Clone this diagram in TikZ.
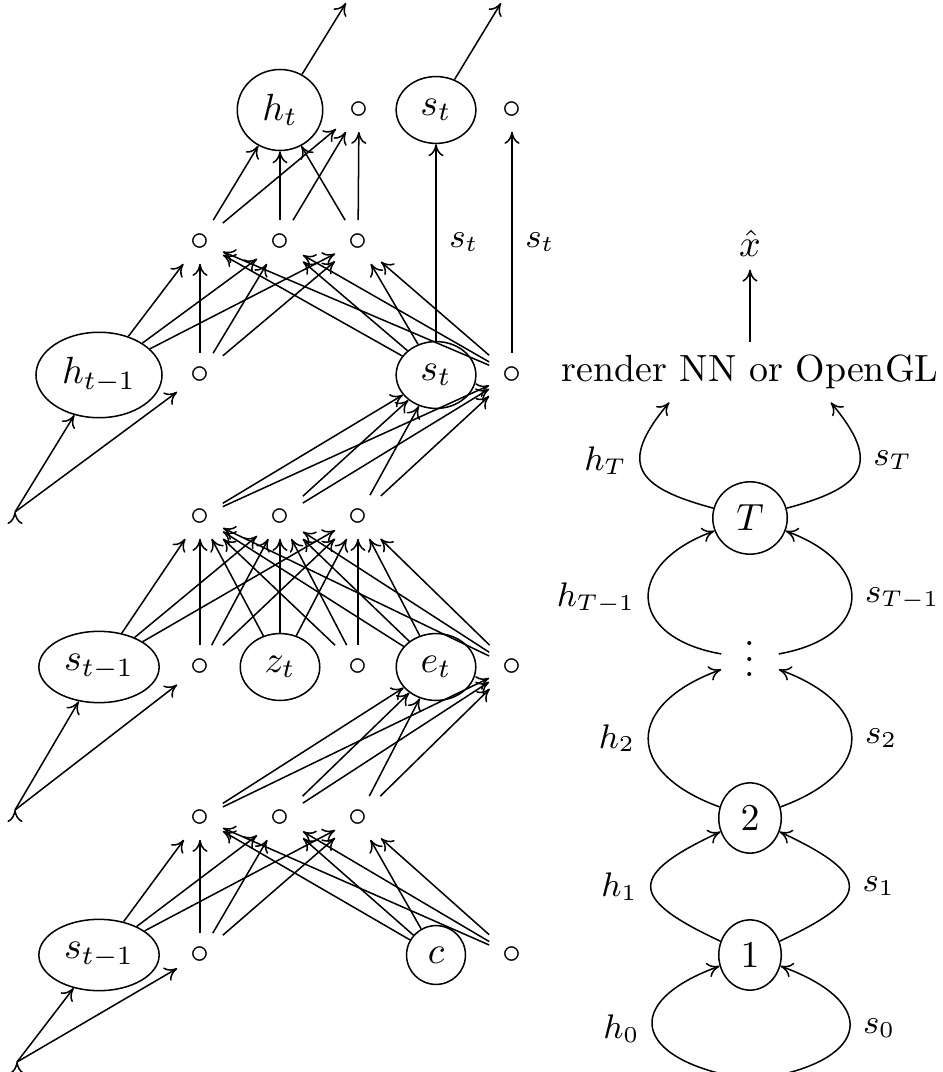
\documentclass[tikz,border=0pt]{standalone}
\usepackage{amsmath, amssymb}
\usepackage{tikz}
\usetikzlibrary{shapes.geometric, arrows.meta}

\begin{document}
\begin{tikzpicture}[x=0.2639pt, y=-0.2639pt,
    var/.style={draw, ellipse},
    prev/.style={var, inner xsep=2pt},
    unit/.style={inner sep=3.33pt},
    link/.style={-{To[length=3.2pt, width=4pt]}},
    lbl/.style={font=\small}
]
    \useasboundingbox (0,0) rectangle (942,1072);

    % Output layer
    \node[var] (ht) at (280,110) {$h_t$};
    \node[unit] (htx) at (359,110) {$\circ$};
    \node[var] (st) at (436,110) {$s_t$};
    \node[unit] (stx) at (512,110) {$\circ$};
    \coordinate (htout) at (346,3);
    \coordinate (stout) at (501,3);

    % Hidden units
    \node[unit] (b1) at (200,242) {$\circ$};
    \node[unit] (b2) at (280,242) {$\circ$};
    \node[unit] (b3) at (358,242) {$\circ$};

    % State layer
    \node[prev] (hm) at (99,375) {$h_{t-1}$};
    \node[unit] (hmx) at (200,375) {$\circ$};
    \node[var] (sc) at (436,375) {$s_t$};
    \node[unit] (scx) at (512,375) {$\circ$};
    \coordinate (in1) at (15,512);

    \node[unit] (d1) at (200,517) {$\circ$};
    \node[unit] (d2) at (280,517) {$\circ$};
    \node[unit] (d3) at (358,517) {$\circ$};

    % Inference layer
    \node[prev] (sm) at (99,667) {$s_{t-1}$};
    \node[unit] (smx) at (200,667) {$\circ$};
    \node[var] (zt) at (280,667) {$z_t$};
    \node[unit] (ztx) at (358,667) {$\circ$};
    \node[var] (et) at (436,667) {$e_t$};
    \node[unit] (etx) at (512,667) {$\circ$};
    \coordinate (in2) at (15,810);

    \node[unit] (f1) at (200,818) {$\circ$};
    \node[unit] (f2) at (280,818) {$\circ$};
    \node[unit] (f3) at (358,818) {$\circ$};

    % Encoder layer
    \node[prev] (sb) at (99,955) {$s_{t-1}$};
    \node[unit] (sbx) at (200,955) {$\circ$};
    \node[var] (c) at (436,955) {$c$};
    \node[unit] (cx) at (512,955) {$\circ$};
    \coordinate (in3) at (17,1062);

    % Unrolled steps
    \node (xhat) at (750,243) {$\hat{x}$};
    \node (render) at (750,372) {render NN or OpenGL};
    \node[var] (T) at (750,518) {$T$};
    \node[inner xsep=6pt, text height=9.1pt, text depth=0pt] (dots) at (750,659) {$\vdots$};
    \node[var] (two) at (750,818) {$2$};
    \node[var] (one) at (750,955) {$1$};
    \node (init) at (753,1080) {};

    % Connections encoder
    \draw[link] (in3) edge (sb) edge (sbx);
    \draw[link] (sb) edge (f1) edge (f2) edge (f3);
    \draw[link] (sbx) edge (f1) edge (f2) edge (f3);
    \draw[link] (c) edge (f1) edge (f2) edge (f3);
    \draw[link] (cx) edge (f1) edge (f2) edge (f3);
    \draw[link] (f1) edge (et) edge (etx);
    \draw[link] (f2) edge (et) edge (etx);
    \draw[link] (f3) edge (et) edge (etx);

    % Connections inference
    \draw[link] (in2) edge (sm) edge (smx);
    \draw[link] (sm) edge (d1) edge (d2) edge (d3);
    \draw[link] (smx) edge (d1) edge (d2) edge (d3);
    \draw[link] (zt) edge (d1) edge (d2) edge (d3);
    \draw[link] (ztx) edge (d1) edge (d2) edge (d3);
    \draw[link] (et) edge (d1) edge (d2) edge (d3);
    \draw[link] (etx) edge (d1) edge (d2) edge (d3);
    \draw[link] (d1) edge (sc) edge (scx);
    \draw[link] (d2) edge (sc) edge (scx);
    \draw[link] (d3) edge (sc) edge (scx);

    % Connections state
    \draw[link] (in1) edge (hm) edge (hmx);
    \draw[link] (hm) edge (b1) edge (b2) edge (b3);
    \draw[link] (hmx) edge (b1) edge (b2) edge (b3);
    \draw[link] (sc) edge (b1) edge (b2) edge (b3);
    \draw[link] (scx) edge (b1) edge (b2) edge (b3);
    \draw[link] (b1) edge (ht) edge (htx);
    \draw[link] (b2) edge (ht) edge (htx);
    \draw[link] (b3) edge (ht) edge (htx);
    \draw[link] (sc) -- node[right, lbl]{$s_t$} (st);
    \draw[link] (scx) -- node[right, lbl]{$s_t$} (stx);
    \draw[link] (ht) -- (htout);
    \draw[link] (st) -- (stout);

    % Steps
    \draw[link] (render) -- (xhat);
    \draw[link] (T) to[out=165, in=230, looseness=1.8] node[left, lbl, pos=0.6]{$h_T$} ([xshift=-21.3pt]render.south);
    \draw[link] (T) to[out=15, in=-50, looseness=1.8] node[right, lbl, pos=0.6]{$s_T$} ([xshift=21.3pt]render.south);
    \draw[link] (dots) to[out=170, in=200, looseness=2] node[left, lbl]{$h_{T-1}$} (T);
    \draw[link] (dots) to[out=10, in=-20, looseness=2] node[right, lbl]{$s_{T-1}$} (T);
    \draw[link] (two) to[out=160, in=200, looseness=1.9] node[left, lbl]{$h_2$} (dots);
    \draw[link] (two) to[out=20, in=-20, looseness=1.9] node[right, lbl]{$s_2$} (dots);
    \draw[link] (one) to[out=155, in=205, looseness=2.4] node[left, lbl]{$h_1$} (two);
    \draw[link] (one) to[out=25, in=-25, looseness=2.4] node[right, lbl]{$s_1$} (two);
    \draw[link] (init) to[out=170, in=200, looseness=2.4] node[left, lbl]{$h_0$} (one);
    \draw[link] (init) to[out=10, in=-20, looseness=2.4] node[right, lbl]{$s_0$} (one);
\end{tikzpicture}
\end{document}
